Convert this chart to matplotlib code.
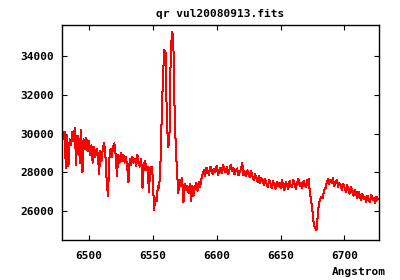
import numpy as np
import matplotlib
matplotlib.use("Agg")
import matplotlib.pyplot as plt

# spectrum header (linear dispersion)
wave_start = 6479.0   # Angstrom
wave_step = 1.0       # Angstrom per pixel

flux = [
    30000, 29700, 30100, 28200, 29900, 28300, 29700, 29400, 30100, 29600,   # 6479-6488
    30300, 28400, 29900, 29700, 28500, 30200, 28000, 29700, 29200, 29800,   # 6489-6498
    29100, 29600, 28900, 29400, 28500, 29300, 28800, 29200, 29000, 27900,   # 6499-6508
    29100, 28600, 29300, 29500, 28800, 27500, 26800, 28700, 29200, 28800,   # 6509-6518
    29300, 29500, 28900, 27800, 28900, 28500, 29000, 28600, 28900, 28500,   # 6519-6528
    28800, 28300, 27500, 28700, 28400, 28800, 28500, 28700, 28300, 28900,   # 6529-6538
    28500, 28300, 28700, 27200, 28400, 28600, 28100, 28300, 27000, 28200,   # 6539-6548
    28300, 27800, 26070, 26700, 26500, 27300, 27200, 28400, 30850, 33000,   # 6549-6558
    34300, 34200, 30800, 29300, 29600, 33900, 35250, 35100, 31500, 29300,   # 6559-6568
    28000, 26950, 27600, 27300, 27700, 26450, 27400, 27100, 27300, 26950,   # 6569-6578
    27400, 26500, 27300, 26800, 27250, 27450, 27050, 27500, 27250, 27650,   # 6579-6588
    27900, 28100, 27800, 28250, 28050, 27850, 28300, 28150, 27900, 28200,   # 6589-6598
    28000, 28350, 27850, 28100, 28250, 27950, 28400, 28100, 28000, 28300,   # 6599-6608
    27900, 28150, 28400, 28050, 28250, 27900, 28100, 28200, 27850, 28000,   # 6609-6618
    28150, 28500, 27850, 28050, 27800, 28100, 27950, 27750, 28050, 27800,   # 6619-6628
    27600, 27900, 27750, 27500, 27800, 27450, 27700, 27600, 27350, 27650,   # 6629-6638
    27400, 27250, 27600, 27450, 27200, 27550, 27350, 27150, 27500, 27300,   # 6639-6648
    27450, 27200, 27600, 27300, 27100, 27500, 27350, 27150, 27550, 27300,   # 6649-6658
    27250, 27600, 27400, 27150, 27500, 27650, 27300, 27450, 27200, 27550,   # 6659-6668
    27350, 27250, 27600, 27650, 26900, 26500, 25950, 25300, 25150, 25000,   # 6669-6678
    25700, 26400, 26600, 26750, 26650, 27100, 27150, 27450, 27650, 27400,   # 6679-6688
    27600, 27450, 27700, 27300, 27500, 27600, 27250, 27450, 27350, 27100,   # 6689-6698
    27400, 27200, 27000, 27350, 27100, 26900, 27250, 27050, 26800, 27100,   # 6699-6708
    26950, 26650, 27000, 26800, 26550, 26900, 26600, 26750, 26450, 26800,   # 6709-6718
    26600, 26450, 26850, 26550, 26700, 26400, 26750, 26600,                 # 6719-6726
]

wave = wave_start + wave_step * np.arange(len(flux))

plt.rcParams['font.family'] = 'DejaVu Sans Mono'
plt.rcParams['font.weight'] = 'bold'

fig = plt.figure(figsize=(4, 2.8), dpi=100)
ax = fig.add_axes([0.155, 0.143, 0.7925, 0.768])
ax.plot(wave, flux, color='red', lw=0.72, antialiased=False)

ax.set_xlim(6479, 6727)
ax.set_ylim(24510, 35610)
ax.set_xticks([6500, 6550, 6600, 6650, 6700])
ax.set_yticks([26000, 28000, 30000, 32000, 34000])
ax.tick_params(direction='in', top=True, right=True, length=3.5, width=0.8,
               labelsize=8, color='black')
ax.tick_params(axis='x', pad=8)
ax.tick_params(axis='y', pad=6)
for s in ax.spines.values():
    s.set_linewidth(1.0)

ax.set_title('qr vul20080913.fits', fontsize=8, fontweight='bold', pad=6)
fig.text(0.965, 0.03, 'Angstrom', ha='right', va='center', fontsize=8, fontweight='bold')

fig.savefig('out.png', dpi=100)
